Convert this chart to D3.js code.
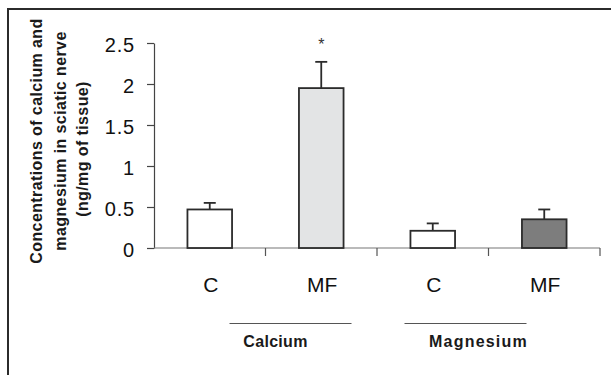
<!DOCTYPE html>
<html>
<head>
<meta charset="utf-8">
<script src="https://cdn.jsdelivr.net/npm/d3@7"></script>
<style>
  body { margin: 0; background: #fff; }
  svg { display: block; font-family: Arial, "Liberation Sans", sans-serif; }
  .tick text { font-size: 20px; fill: #111; letter-spacing: 0.8px; }
</style>
</head>
<body>
<svg width="611" height="375"></svg>
<script>
// data
var groups = ["Calcium", "Magnesium"];
var categories = ["C", "MF", "C", "MF"];
var categoryGroup = [0, 0, 1, 1];
var means = [0.47, 1.95, 0.21, 0.35];
var errors = [0.08, 0.32, 0.09, 0.12];
var significant = [false, true, false, false];
var yTicks = [0, 0.5, 1, 1.5, 2, 2.5];
var yTitle = ["Concentrations of calcium and", "magnesium in sciatic nerve", "(ng/mg of tissue)"];

var fills = ["#ffffff", "#e3e4e5", "#ffffff", "#7d7d7d"];

var svg = d3.select("svg");
svg.append("rect").attr("width", 611).attr("height", 375).attr("fill", "#fff");

// partial frame (only top and left edges are visible)
svg.append("path")
  .attr("d", "M8,376V9H612")
  .attr("fill", "none")
  .attr("stroke", "#2b2b2b")
  .attr("stroke-width", 2);

var keys = categories.map(function(c, i) { return i; });

var xScale = d3.scaleBand().domain(keys).range([154, 600]).padding(0);
var yScale = d3.scaleLinear().domain([0, 2.5]).range([248, 43]);
var bw = xScale.bandwidth() * 0.4;

// y axis
var yAxis = svg.append("g")
  .attr("transform", "translate(154,0)")
  .call(d3.axisLeft(yScale).tickValues(yTicks).tickSize(7).tickSizeOuter(0).tickPadding(12)
    .tickFormat(function(d) { return d; }));
yAxis.select(".domain").attr("stroke", "#444").attr("stroke-width", 1.2);
yAxis.selectAll(".tick line").attr("stroke", "#444").attr("stroke-width", 1.2);
yAxis.selectAll(".tick text").attr("dy", "0.42em");

// x axis line and boundary ticks
svg.append("line")
  .attr("x1", xScale.range()[0]).attr("x2", xScale.range()[1])
  .attr("y1", yScale(0)).attr("y2", yScale(0))
  .attr("stroke", "#777").attr("stroke-width", 1.2);

svg.selectAll(".xtick")
  .data(keys)
  .enter()
  .append("line")
  .attr("class", "xtick")
  .attr("x1", function(d) { return xScale(d) + xScale.bandwidth(); })
  .attr("x2", function(d) { return xScale(d) + xScale.bandwidth(); })
  .attr("y1", yScale(0))
  .attr("y2", yScale(0) + 8)
  .attr("stroke", "#555").attr("stroke-width", 1.2);

// category labels
svg.selectAll(".cat")
  .data(keys)
  .enter()
  .append("text")
  .attr("class", "cat")
  .attr("x", function(d) { return xScale(d) + xScale.bandwidth() / 2 + 1; })
  .attr("y", 292)
  .attr("text-anchor", "middle")
  .attr("font-size", 21)
  .attr("fill", "#111")
  .text(function(d) { return categories[d]; });

// error bars
var err = svg.selectAll(".err")
  .data(keys)
  .enter()
  .append("g")
  .attr("class", "err")
  .attr("stroke", "#2b2b2b")
  .attr("stroke-width", 1.8);

err.append("line")
  .attr("x1", function(d) { return xScale(d) + xScale.bandwidth() / 2; })
  .attr("x2", function(d) { return xScale(d) + xScale.bandwidth() / 2; })
  .attr("y1", function(d) { return yScale(means[d]); })
  .attr("y2", function(d) { return yScale(means[d] + errors[d]); });

err.append("line")
  .attr("x1", function(d) { return xScale(d) + xScale.bandwidth() / 2 - 6; })
  .attr("x2", function(d) { return xScale(d) + xScale.bandwidth() / 2 + 6; })
  .attr("y1", function(d) { return yScale(means[d] + errors[d]); })
  .attr("y2", function(d) { return yScale(means[d] + errors[d]); });

// bars
svg.selectAll(".bar")
  .data(keys)
  .enter()
  .append("rect")
  .attr("class", "bar")
  .attr("x", function(d) { return xScale(d) + (xScale.bandwidth() - bw) / 2; })
  .attr("y", function(d) { return yScale(means[d]); })
  .attr("width", bw)
  .attr("height", function(d) { return yScale(0) - yScale(means[d]); })
  .attr("fill", function(d) { return fills[d]; })
  .attr("stroke", "#2b2b2b")
  .attr("stroke-width", 1.8);

// significance marks
svg.selectAll(".star")
  .data(keys.filter(function(d) { return significant[d]; }))
  .enter()
  .append("text")
  .attr("class", "star")
  .attr("x", function(d) { return xScale(d) + xScale.bandwidth() / 2; })
  .attr("y", function(d) { return yScale(means[d] + errors[d]) - 12; })
  .attr("text-anchor", "middle")
  .attr("font-size", 16)
  .attr("fill", "#333")
  .text("*");

// group underlines and names
var lineShift = [25, -23];
var textShift = [10, -10];
groups.forEach(function(name, gi) {
  var members = keys.filter(function(d) { return categoryGroup[d] === gi; });
  var x0 = xScale(members[0]);
  var x1 = xScale(members[members.length - 1]) + xScale.bandwidth();
  var cx = (x0 + x1) / 2;
  svg.append("line")
    .attr("x1", cx + lineShift[gi] - 61).attr("x2", cx + lineShift[gi] + 61)
    .attr("y1", 323.5).attr("y2", 323.5)
    .attr("stroke", "#555").attr("stroke-width", 1);
  svg.append("text")
    .attr("x", cx + textShift[gi])
    .attr("y", 347)
    .attr("text-anchor", "middle")
    .attr("font-size", 16)
    .attr("font-weight", "bold")
    .attr("letter-spacing", gi === 1 ? "1.2px" : "0.3px")
    .attr("fill", "#1a1a1a")
    .text(name);
});

// y axis title, three rotated lines
var titleCenter = [141, 141, 149];
var titleBase = [41.5, 65.5, 88];
svg.selectAll(".ytitle")
  .data(yTitle)
  .enter()
  .append("text")
  .attr("class", "ytitle")
  .attr("transform", function(d, i) { return "translate(" + titleBase[i] + "," + titleCenter[i] + ") rotate(-90)"; })
  .attr("text-anchor", "middle")
  .attr("font-size", 16)
  .attr("font-weight", "bold")
  .attr("letter-spacing", "0.4px")
  .attr("fill", "#1a1a1a")
  .text(function(d) { return d; });
</script>
</body>
</html>
